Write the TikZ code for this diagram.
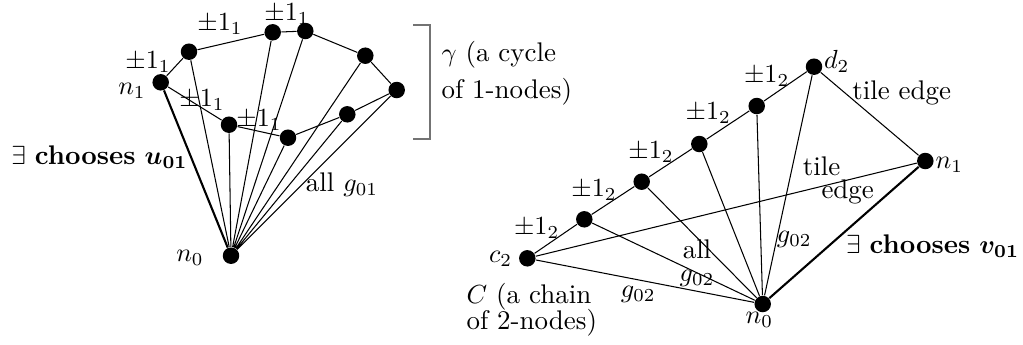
\documentclass[tikz,border=0pt]{standalone}
\usepackage{amsmath,amssymb}
\usepackage{tikz}
\usetikzlibrary{positioning}
\usepackage{xcolor}
\begin{document}
\begin{tikzpicture}[x=0.382pt,y=-0.382pt,font=\fontsize{10.3}{12.4}\selectfont,
  dot/.style={circle,fill=black,inner sep=0pt,minimum size=6.3pt},
  lbl/.style={inner sep=0pt}]
\useasboundingbox (0,0) rectangle (1023,344);
% the cycle of 1-nodes
\node[dot] (n0L) at (231,255.7) {};
\node[dot] (n1L) at (160.7,82.3) {};
\node[dot] (u1) at (189,51.7) {};
\node[dot] (u2) at (272.7,32.3) {};
\node[dot] (u3) at (305.3,31) {};
\node[dot] (u4) at (365.3,55.7) {};
\node[dot] (u5) at (396.7,90) {};
\node[dot] (u6) at (347.3,114.3) {};
\node[dot] (u7) at (288,137.7) {};
\node[dot] (u8) at (229,124.7) {};
\draw (n1L) -- (u1) -- (u2) -- (u3) -- (u4) -- (u5) -- (u6) -- (u7) -- (u8) -- (n1L);
\draw[thick] (n0L) -- (n1L);
\draw (n0L) -- (u1) (n0L) -- (u2) (n0L) -- (u3) (n0L) -- (u4) (n0L) -- (u5)
  (n0L) -- (u5.south west) (n0L) -- (u6) (n0L) -- (u7) (n0L) -- (u8);
\node[lbl] (pmA) at (148,62) {$\pm1_1$};
\node[lbl] (pmB) at (220,24) {$\pm1_1$};
\node[lbl] (pmC) at (287,14.5) {$\pm1_1$};
\node[lbl] (pmD) at (202,100) {$\pm1_1$};
\node[lbl] (pmE) at (259,120) {$\pm1_1$};
\node[lbl] (n1Ltxt) at (132,91) {$n_1$};
\node[lbl] (n0Ltxt) at (190,258) {$n_0$};
\node[lbl] (chooseU) at (99.5,157) {$\exists$ \textbf{chooses} $\boldsymbol{u_{01}}$};
\node[lbl] (allG) at (342,185) {all $g_{01}$};
\draw[gray!90!black,semithick] (413,25) -- (430,25) -- (430,139) -- (413,139);
\node[lbl,anchor=west,align=left] (gammaTxt) at (441,73.5) {$\gamma$ (a cycle\\[1.6pt]of 1-nodes)};
% the chain of 2-nodes
\node[dot] (n0R) at (762.7,304) {};
\node[dot] (n1R) at (925.3,161) {};
\node[dot] (c2R) at (527.3,258.3) {};
\node[dot] (w1) at (584.3,219.3) {};
\node[dot] (w2) at (641.7,181.7) {};
\node[dot] (w3) at (699.3,144) {};
\node[dot] (w4) at (756.7,106) {};
\node[dot] (d2R) at (814,66.7) {};
\draw (c2R) -- (w1) -- (w2) -- (w3) -- (w4) -- (d2R) -- (n1R) -- (c2R);
\draw[thick] (n0R) -- (n1R);
\draw (n0R) -- (c2R) (n0R) -- (w1) (n0R) -- (w2) (n0R) -- (w3) (n0R) -- (w4) (n0R) -- (d2R);
\node[lbl] (pmF) at (536.7,228.3) {$\pm1_2$};
\node[lbl] (pmG) at (594,190) {$\pm1_2$};
\node[lbl] (pmH) at (651,152.3) {$\pm1_2$};
\node[lbl] (pmI) at (708.3,113.3) {$\pm1_2$};
\node[lbl] (pmJ) at (766.7,76) {$\pm1_2$};
\node[lbl] (d2Txt) at (836.7,61) {$d_2$};
\node[lbl] (n1RTxt) at (949.3,165) {$n_1$};
\node[lbl] (n0RTxt) at (759.3,320) {$n_0$};
\node[lbl] (c2Txt) at (500.7,259.3) {$c_2$};
\node[lbl] (tileTop) at (901.7,92.7) {tile edge};
\node[lbl] (tileA) at (821.7,166.7) {tile};
\node[lbl] (tileB) at (847.7,192.3) {edge};
\node[lbl] (gA) at (794.3,239.3) {$g_{02}$};
\node[lbl,align=center] (allGR) at (697,263) {all\\[-3.6pt]$g_{02}$};
\node[lbl] (gB) at (638.3,294) {$g_{02}$};
\node[lbl] (chooseV) at (932.7,246) {$\exists$ \textbf{chooses} $\boldsymbol{v_{01}}$};
\node[lbl,anchor=west,align=left] (chainTxt) at (466,309.7) {$C$ (a chain\\[-2.2pt]of 2-nodes)};
\end{tikzpicture}
\end{document}
